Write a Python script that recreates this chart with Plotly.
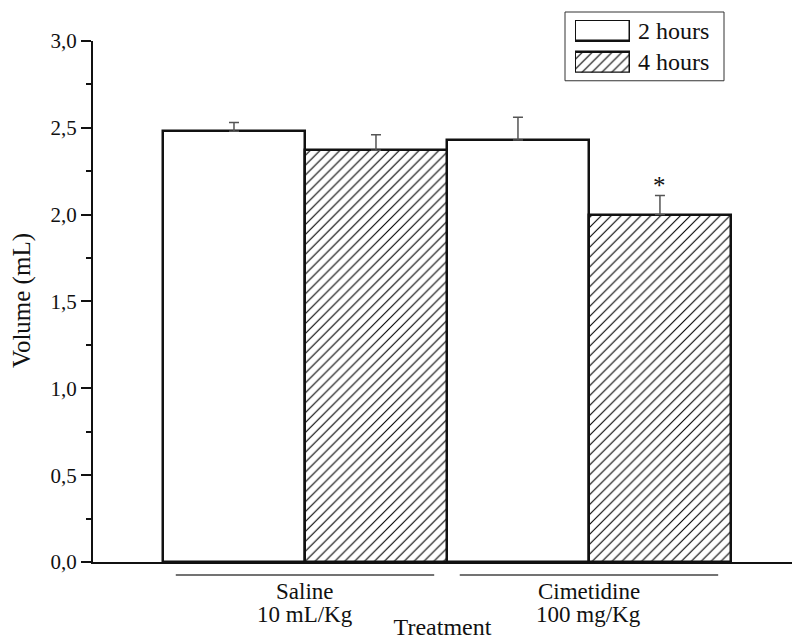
import plotly.graph_objects as go

# Gastric volume after treatment, mean with upper SEM
groups = [0, 1]
group_names = ["Saline", "Cimetidine"]
group_doses = ["10 mL/Kg", "100 mg/Kg"]
series_names = ["2 hours", "4 hours"]
vol_2h = [2.48, 2.43]
err_2h = [0.05, 0.13]
vol_4h = [2.37, 2.00]
err_4h = [0.09, 0.11]
y_ticks = [0.0, 0.5, 1.0, 1.5, 2.0, 2.5, 3.0]
significant = [(1, "4 hours")]

SERIF = "Liberation Serif"
INK = "#111111"

fig = go.Figure()

styles = {
    "2 hours": dict(color="white", line=dict(color=INK, width=2.5)),
    "4 hours": dict(color="white", line=dict(color=INK, width=2.5),
                    pattern=dict(shape="/", size=7, solidity=0.16,
                                 fgcolor="#000000", fgopacity=1,
                                 bgcolor="white")),
}

for name, vals, errs in [("2 hours", vol_2h, err_2h), ("4 hours", vol_4h, err_4h)]:
    fig.add_trace(go.Bar(
        x=groups, y=vals, name=name, offsetgroup=name, showlegend=False,
        marker=styles[name],
        error_y=dict(type="data", symmetric=False, array=errs,
                     arrayminus=[0] * len(errs), color="#555555",
                     thickness=1.5, width=5),
    ))

# Legend swatches drawn on a small hidden axis pair
for i, name in enumerate(series_names):
    fig.add_trace(go.Bar(
        x=[1], y=[len(series_names) - 1 - i], orientation="h", width=0.66,
        marker=styles[name], showlegend=False, hoverinfo="skip",
        xaxis="x2", yaxis="y2",
    ))

W, H = 792, 640
ML, MR, MT, MB = 93, 0, 10, 78
PW, PH = W - ML - MR, H - MT - MB
AX_BOTTOM = H - MB

def px_x(px):
    return (px - ML) / PW

def px_y(py):
    return (AX_BOTTOM - py) / PH

fig.update_layout(
    width=W, height=H,
    margin=dict(l=ML, r=MR, t=MT, b=MB),
    plot_bgcolor="white", paper_bgcolor="white",
    separators=",.",
    barmode="group", bargap=0, bargroupgap=0,
    font=dict(family=SERIF, size=23, color=INK),
    xaxis=dict(range=[-0.7465, 1.715], showline=True, linecolor=INK,
               linewidth=2, ticks="", showticklabels=False, showgrid=False,
               zeroline=False, fixedrange=True,
               title=dict(text="Treatment", font=dict(size=24), standoff=57)),
    yaxis=dict(domain=[0, (AX_BOTTOM - 39) / PH], range=[0, 3.0],
               tickvals=y_ticks, tickformat=".1f", showline=True,
               linecolor=INK, linewidth=2, ticks="outside", ticklen=10,
               tickwidth=2, tickcolor=INK, showgrid=False, zeroline=False,
               tickfont=dict(size=21),
               minor=dict(dtick=0.25, ticks="outside", ticklen=5,
                          tickwidth=2, tickcolor=INK)),
    xaxis2=dict(domain=[px_x(575), px_x(630)], range=[0, 1], anchor="y2",
                visible=False, fixedrange=True),
    yaxis2=dict(domain=[px_y(71), px_y(18)], range=[-0.335, 1.335],
                anchor="x2", visible=False, fixedrange=True),
)

annotations = []
shapes = []

# Group labels under the axis with a rule above each
for g, nm, dose in zip(groups, group_names, group_doses):
    shapes.append(dict(type="line", xref="x", yref="paper",
                       x0=g - 0.455, x1=g + 0.455, y0=px_y(575), y1=px_y(575),
                       line=dict(color="#444444", width=1.5)))
    annotations.append(dict(x=g, y=px_y(592), xref="x", yref="paper",
                            text=nm, showarrow=False, xanchor="center",
                            yanchor="middle"))
    annotations.append(dict(x=g, y=px_y(615), xref="x", yref="paper",
                            text=dose, showarrow=False, xanchor="center",
                            yanchor="middle"))

# Significance mark
for g, name in significant:
    idx = groups.index(g)
    top = (vol_4h[idx] + err_4h[idx]) if name == "4 hours" else (vol_2h[idx] + err_2h[idx])
    offset = 0.25 if name == "4 hours" else -0.25
    annotations.append(dict(x=g + offset, y=top, xref="x", yref="y", text="*",
                            showarrow=False, yanchor="bottom", yshift=-6,
                            font=dict(size=25)))

# Y axis title
annotations.append(dict(x=px_x(22), y=px_y(300), xref="paper", yref="paper",
                        text="Volume (mL)", textangle=-90, showarrow=False,
                        xanchor="center", yanchor="middle",
                        font=dict(size=25)))

# Legend frame and text
shapes.append(dict(type="rect", xref="paper", yref="paper",
                   x0=px_x(565), x1=px_x(724), y0=px_y(79), y1=px_y(10),
                   line=dict(color="#333333", width=1)))
for name, cy in zip(series_names, [29, 60.5]):
    annotations.append(dict(x=px_x(636), y=px_y(cy), xref="paper",
                            yref="paper", text=name, showarrow=False,
                            xanchor="left", yanchor="middle",
                            font=dict(size=24)))

fig.update_layout(annotations=annotations, shapes=shapes)

fig.write_html("out.html")
